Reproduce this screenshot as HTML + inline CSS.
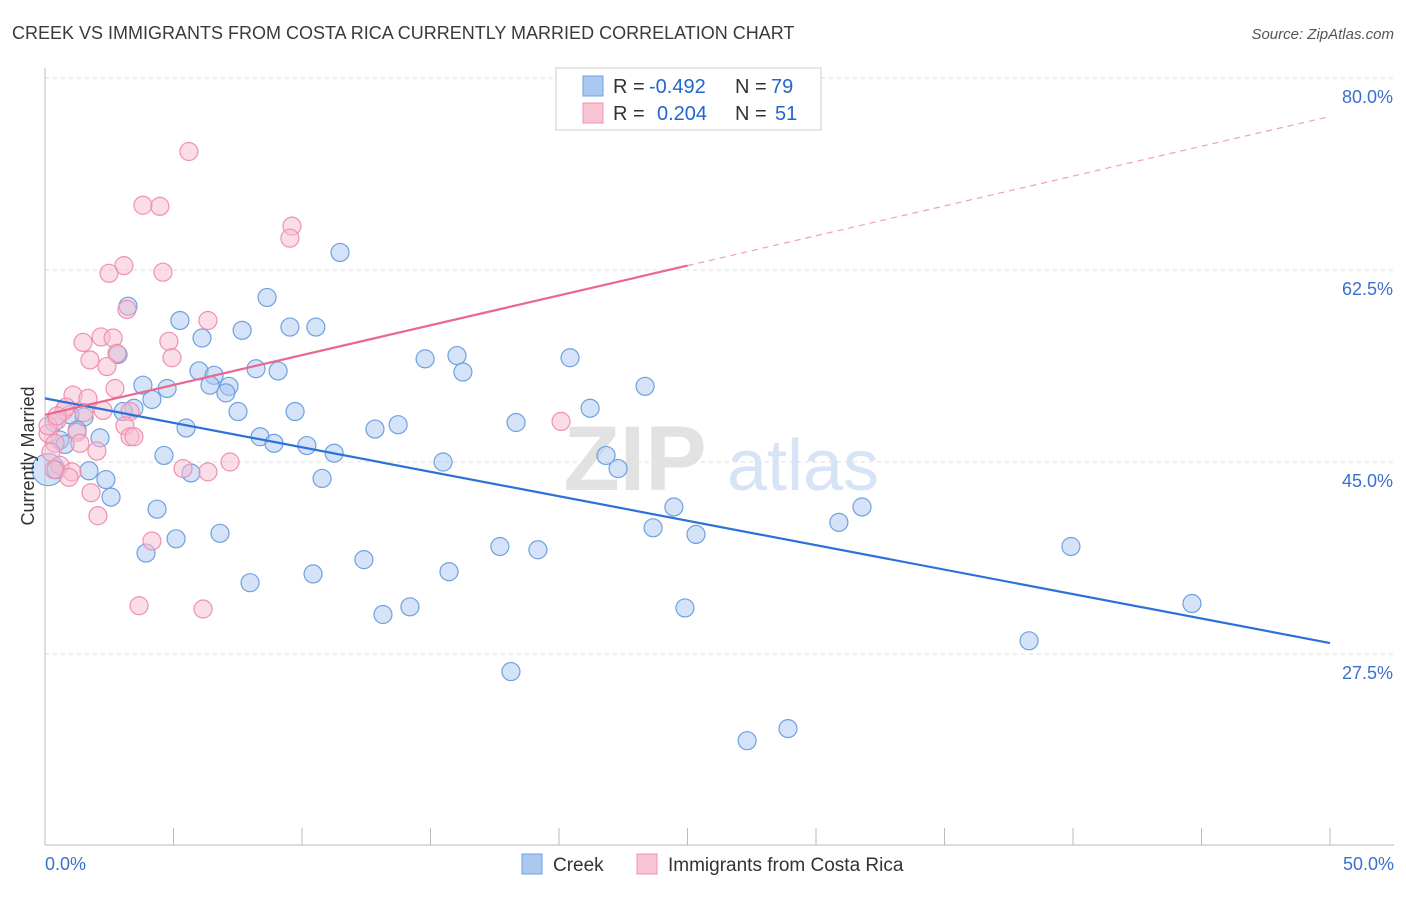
<!DOCTYPE html>
<html><head><meta charset="utf-8"><style>
body{margin:0;background:#fff;font-family:"Liberation Sans",sans-serif}
svg text{font-family:"Liberation Sans",sans-serif}
</style></head><body>
<svg width="1406" height="892" viewBox="0 0 1406 892" xmlns="http://www.w3.org/2000/svg">
<text x="12" y="39" font-size="18" fill="#3a3a3a">CREEK VS IMMIGRANTS FROM COSTA RICA CURRENTLY MARRIED CORRELATION CHART</text>
<text x="1394" y="39" font-size="15" fill="#555" text-anchor="end" font-style="italic">Source: ZipAtlas.com</text>
<g id="grid"></g>
<g><text x="635" y="490" font-size="92" fill="#e2e2e2" text-anchor="middle" font-family="Liberation Serif" font-weight="bold">ZIP</text><text x="803" y="490" font-size="72" fill="#d6e4f5" text-anchor="middle">atlas</text></g>
<g id="axes"></g>
<g id="pts"></g>
<g id="lines"></g>
<text transform="translate(34,456) rotate(-90)" font-size="18" fill="#333" text-anchor="middle">Currently Married</text>
<g>
<rect x="556" y="68" width="265" height="62" fill="#fff" stroke="#ccc"/>
<rect x="583" y="76" width="20" height="20" fill="#aac8f0" stroke="#6fa0e0"/>
<text x="613" y="93" font-size="20" fill="#333">R =</text>
<text x="649" y="93" font-size="20" fill="#2266cc">-0.492</text>
<text x="735" y="93" font-size="20" fill="#333">N =</text>
<text x="771" y="93" font-size="20" fill="#2266cc">79</text>
<rect x="583" y="103" width="20" height="20" fill="#f8c4d4" stroke="#f090b0"/>
<text x="613" y="120" font-size="20" fill="#333">R =</text>
<text x="657" y="120" font-size="20" fill="#2266cc">0.204</text>
<text x="735" y="120" font-size="20" fill="#333">N =</text>
<text x="775" y="120" font-size="20" fill="#2266cc">51</text>
</g>
<g>
<rect x="522" y="854" width="20" height="20" fill="#aac8f0" stroke="#6fa0e0"/>
<text x="553" y="871" font-size="19" fill="#333">Creek</text>
<rect x="637" y="854" width="20" height="20" fill="#f8c4d4" stroke="#f090b0"/>
<text x="668" y="871" font-size="19" fill="#333">Immigrants from Costa Rica</text>
</g>
</svg>
<script>
const yTicks=[80,62.5,45,27.5];
const yTickLabels=["80.0%","62.5%","45.0%","27.5%"];
const xTickLabels=["0.0%","50.0%"];
const creekX=[11.48,3.23,8.64,5.25,6.11,7.67,9.53,10.54,2.84,5.99,6.58,3.81,4.75,6.42,7.16,7.04,8.21,9.07,4.16,3.46,3.04,1.52,0.97,7.51,9.73,5.49,1.25,0.35,0.58,0.78,2.14,8.37,8.91,10.19,11.25,4.63,5.68,1.71,2.37,10.78,2.57,4.36,5.10,3.93,6.81,7.98,10.43,12.41,13.15,14.20,15.72,12.84,13.74,14.79,16.03,16.26,15.49,18.33,20.43,21.21,21.83,22.30,23.35,17.70,19.18,18.13,23.66,24.47,24.90,25.33,27.32,28.91,30.89,31.79,38.29,39.92,44.63,0.12,0.43];
const creekY=[64.1,59.2,60.0,57.9,56.3,57.0,57.3,57.3,54.8,53.3,52.9,52.0,51.7,52.0,51.9,51.3,53.5,53.3,50.7,49.9,49.6,49.1,49.3,49.6,49.6,48.1,47.9,48.6,47.0,46.6,47.2,47.3,46.7,46.5,45.8,45.6,44.0,44.2,43.4,43.5,41.8,40.7,38.0,36.7,38.5,34.0,34.8,36.1,31.1,31.8,35.0,48.0,48.4,54.4,54.7,53.2,45.0,48.6,54.5,49.9,45.6,44.4,51.9,37.3,37.0,25.9,39.0,40.9,31.7,38.4,19.6,20.7,39.5,40.9,28.7,37.3,32.1,44.3,44.3];
const costaX=[5.60,3.81,4.47,9.61,9.53,3.07,2.49,4.59,6.34,3.19,1.48,2.18,2.65,1.75,2.80,2.41,4.82,4.94,2.72,1.09,1.67,0.74,0.82,2.26,1.52,0.47,3.31,0.12,0.39,3.11,3.31,3.46,1.25,1.36,0.23,2.02,0.58,1.05,0.93,0.35,5.37,6.34,7.20,1.79,2.06,4.16,3.66,6.15,20.08,0.12,0.47];
const costaY=[73.3,68.4,68.3,66.5,65.4,62.9,62.2,62.3,57.9,58.9,55.9,56.4,56.3,54.3,54.9,53.7,56.0,54.5,51.7,51.1,50.8,49.7,50.0,49.7,49.5,48.8,49.6,47.6,46.7,48.3,47.3,47.3,47.7,46.7,45.9,46.0,44.7,44.1,43.6,44.3,44.4,44.1,45.0,42.2,40.1,37.8,31.9,31.6,48.7,48.3,49.2];
const creekTrend=[50.8,28.5];
const costaTrend=[49.3,76.5];
const costaSolidEnd=25;
const NS="http://www.w3.org/2000/svg";
const sx=v=>45+v*25.7, sy=v=>78+(80-v)*192/17.5;
function mk(t,a,p){const e=document.createElementNS(NS,t);for(const k in a)e.setAttribute(k,a[k]);p.appendChild(e);return e;}
const grid=document.getElementById('grid'),axes=document.getElementById('axes'),pts=document.getElementById('pts'),lines=document.getElementById('lines');
yTicks.forEach((v,i)=>{
 const l=mk('line',{x1:45,x2:1394,y1:sy(v),y2:sy(v),stroke:'#ddd','stroke-dasharray':'4,4'},grid);
 
 
 const t=mk('text',{x:1393,y:sy(v)+25,'font-size':18,fill:'#3a70cc','text-anchor':'end'},grid);
 t.textContent=yTickLabels[i];
 
 
});
mk('line',{x1:45,x2:45,y1:68,y2:845,stroke:'#bbb'},axes);
mk('line',{x1:45,x2:1394,y1:845,y2:845,stroke:'#bbb'},axes);
for(let i=0;i<=10;i++){const t=mk('line',{x1:sx(i*5),x2:sx(i*5),y1:828,y2:845,stroke:'#bbb'},axes);}
[[0,45,'start'],[50,1394,'end']].forEach((d,i)=>{const t=mk('text',{x:d[1],y:870,'font-size':18,fill:'#3a70cc','text-anchor':d[2]},axes);t.textContent=xTickLabels[i];});
creekX.forEach((x,i)=>{const c=mk('circle',{cx:sx(x),cy:sy(creekY[i]),r:(i==creekX.length-2?16:9),fill:'rgba(170,200,240,0.5)',stroke:'#6fa0e0','stroke-width':1.2},pts);
 
 });
costaX.forEach((x,i)=>{const c=mk('circle',{cx:sx(x),cy:sy(costaY[i]),r:9,fill:'rgba(248,188,208,0.5)',stroke:'#f090b0','stroke-width':1.2},pts);
 
 });
let l=mk('line',{x1:sx(0),y1:sy(creekTrend[0]),x2:sx(50),y2:sy(creekTrend[1]),stroke:'#2a72d8','stroke-width':2.2},lines);


const cy=v=>costaTrend[0]+(costaTrend[1]-costaTrend[0])*v/50;
l=mk('line',{x1:sx(0),y1:sy(cy(0)),x2:sx(costaSolidEnd),y2:sy(cy(costaSolidEnd)),stroke:'#e86890','stroke-width':2.2},lines);


l=mk('line',{x1:sx(costaSolidEnd),y1:sy(cy(costaSolidEnd)),x2:sx(50),y2:sy(cy(50)),stroke:'#f0a0b8','stroke-width':1.2,'stroke-dasharray':'6,5'},lines);


</script>
</body></html>
